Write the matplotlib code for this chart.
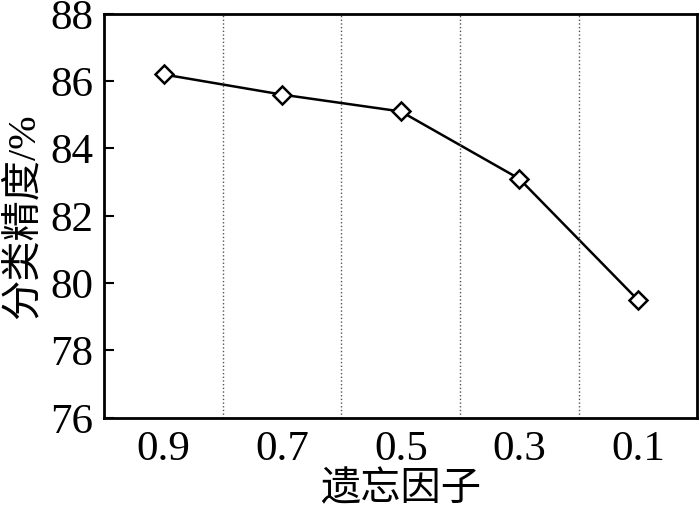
import matplotlib.pyplot as plt
import numpy as np

# data
factors = ["0.9", "0.7", "0.5", "0.3", "0.1"]
accuracy = [86.2, 85.6, 85.1, 83.1, 79.5]

plt.rcParams['font.family'] = ['Liberation Serif', 'Noto Sans CJK SC']

fig = plt.figure(figsize=(7, 5.12), dpi=100)
ax = fig.add_axes([0.149, 0.184, 0.847, 0.789])

x = np.arange(len(factors))
ax.plot(x, accuracy, color='black', linewidth=1.8, marker='D', markersize=9,
        markerfacecolor='white', markeredgecolor='black', markeredgewidth=1.8)

# dotted separators between categories
for xs in x[:-1] + 0.5:
    ax.axvline(xs, color='#555555', linestyle=':', linewidth=1.0)

ax.set_xlim(-0.5, len(factors) - 0.5)
ax.set_ylim(76, 88)
ax.set_yticks(np.arange(76, 89, 2))
ax.set_xticks(x)
ax.set_xticklabels(factors)

ax.tick_params(axis='y', direction='in', length=7, width=1.5, labelsize=31, pad=8)
ax.tick_params(axis='x', length=0, labelsize=31, pad=9)
for s in ax.spines.values():
    s.set_linewidth(2.0)

ax.set_xlabel("遗忘因子", fontsize=29)
ax.set_ylabel("分类精度/%", fontsize=29)
ax.xaxis.set_label_coords(0.5, -0.135)
ax.yaxis.set_label_coords(-0.104, 0.5)

fig.savefig("out.png", dpi=100)
